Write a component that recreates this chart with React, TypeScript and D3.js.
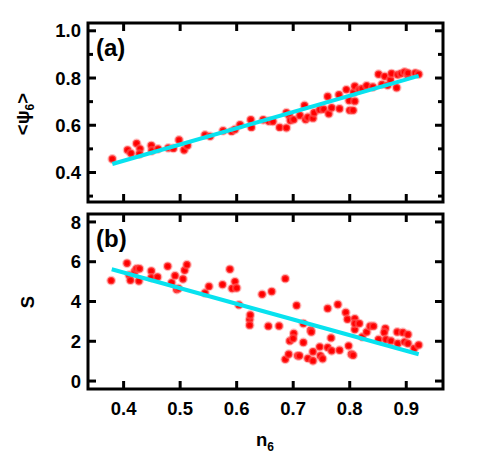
import React from "react";
import * as d3 from "d3";

// ---------- data ----------
const psiN6 = [0.380,0.407,0.413,0.423,0.429,0.428,0.449,0.450,0.461,0.479,0.488,0.498,0.507,0.513,0.544,0.553,0.576,0.591,0.597,0.606,0.625,0.626,0.647,0.657,0.664,0.676,0.688,0.688,0.693,0.695,0.701,0.712,0.720,0.722,0.726,0.735,0.737,0.747,0.754,0.761,0.763,0.768,0.781,0.782,0.794,0.799,0.800,0.806,0.809,0.807,0.809,0.817,0.822,0.830,0.841,0.851,0.857,0.862,0.867,0.872,0.874,0.883,0.885,0.891,0.897,0.903,0.903,0.916,0.922];
const psiVal = [0.457,0.495,0.481,0.523,0.500,0.478,0.514,0.492,0.500,0.504,0.502,0.538,0.495,0.514,0.559,0.553,0.577,0.574,0.582,0.602,0.623,0.591,0.623,0.617,0.616,0.591,0.589,0.653,0.641,0.620,0.624,0.641,0.684,0.624,0.634,0.630,0.653,0.666,0.668,0.722,0.649,0.674,0.729,0.670,0.751,0.705,0.663,0.663,0.702,0.740,0.765,0.751,0.755,0.768,0.762,0.816,0.773,0.807,0.769,0.793,0.819,0.759,0.814,0.819,0.826,0.811,0.821,0.821,0.816];
const psiFitX = [0.38, 0.922];
const psiFitY = [0.436, 0.809];

const sN6 = [0.378,0.406,0.410,0.412,0.420,0.423,0.428,0.427,0.449,0.449,0.460,0.478,0.485,0.491,0.494,0.497,0.505,0.508,0.512,0.544,0.551,0.575,0.588,0.592,0.597,0.600,0.604,0.623,0.624,0.623,0.645,0.656,0.662,0.675,0.686,0.686,0.692,0.694,0.701,0.700,0.706,0.708,0.711,0.718,0.718,0.726,0.731,0.732,0.735,0.735,0.747,0.748,0.752,0.761,0.761,0.767,0.768,0.779,0.782,0.793,0.796,0.798,0.803,0.806,0.809,0.809,0.809,0.817,0.822,0.830,0.836,0.842,0.851,0.863,0.861,0.864,0.873,0.884,0.885,0.894,0.897,0.903,0.903,0.914,0.922];
const sVal = [5.05,5.92,5.32,5.07,5.52,5.65,5.65,5.03,5.53,5.20,5.23,5.77,4.95,5.30,4.60,4.66,5.13,5.57,5.85,4.43,4.76,4.85,5.62,4.65,5.00,4.68,3.83,3.09,3.32,2.81,4.36,2.76,4.50,2.77,5.15,1.09,1.35,2.02,2.39,2.14,3.80,1.27,1.27,1.94,2.89,1.14,2.56,2.47,1.47,1.02,1.72,1.27,1.12,3.65,1.69,2.17,1.52,3.85,1.55,3.45,3.11,1.77,1.35,1.30,3.14,2.59,2.89,2.89,2.22,2.47,2.76,2.76,2.09,2.64,2.44,2.09,2.02,2.47,1.89,2.44,1.97,2.34,1.89,1.64,1.81];
const sFitX = [0.379, 0.922];
const sFitY = [5.62, 1.35];

const xTicks = [0.4, 0.5, 0.6, 0.7, 0.8, 0.9];
const psiMajor = [0.4, 0.6, 0.8, 1.0];
const psiMinor = [0.3, 0.5, 0.7, 0.9];
const sMajor = [0, 2, 4, 6, 8];

// ---------- layout ----------
const W = 491, H = 461;
const L = 88, R = 443;
const FONT = "'Liberation Sans', Arial, sans-serif";

const x = d3.scaleLinear().domain([0.337, 0.965]).range([L, R]);
const yTop = d3.scaleLinear().domain([0.275, 1.033]).range([202, 23]);
const yBot = d3.scaleLinear().domain([-0.4, 8.4]).range([389, 214]);

const RED = "#ff0000";
const HALO = "rgba(255,110,110,0.45)";
const CYAN = "#08e2ef";

type PanelProps = {
  y: d3.ScaleLinear<number, number>;
  xs: number[];
  ys: number[];
  fx: number[];
  fy: number[];
  major: number[];
  minor: number[];
  fmt: (v: number) => string;
  label: string;
};

function Panel({ y, xs, ys, fx, fy, major, minor, fmt, label }: PanelProps) {
  const [y0, y1] = y.range();
  const top = Math.min(y0, y1), bot = Math.max(y0, y1);
  const line = d3.line<number>().x((d) => x(d)).y((_, i) => y(fy[i]));
  const MAJ = 8, MIN = 5;
  return (
    <g>
      {xs.map((v, i) => (
        <circle key={i} cx={x(v)} cy={y(ys[i])} r={3.7} fill={RED} stroke={HALO} strokeWidth={2.4} />
      ))}
      <path d={line(fx) || ""} stroke={CYAN} strokeWidth={4} fill="none" />
      <rect x={L} y={top} width={R - L} height={bot - top} fill="none" stroke="#000" strokeWidth={3} />
      {xTicks.map((t) => (
        <g key={"x" + t}>
          <line x1={x(t)} x2={x(t)} y1={bot} y2={bot - MAJ} stroke="#000" strokeWidth={3} />
          <line x1={x(t)} x2={x(t)} y1={top} y2={top + MAJ} stroke="#000" strokeWidth={3} />
        </g>
      ))}
      {major.map((t) => (
        <g key={"y" + t}>
          <line x1={L} x2={L + MAJ} y1={y(t)} y2={y(t)} stroke="#000" strokeWidth={3} />
          <line x1={R} x2={R - MAJ} y1={y(t)} y2={y(t)} stroke="#000" strokeWidth={3} />
          <text x={L - 7} y={y(t)} dy="0.36em" textAnchor="end" fontFamily={FONT} fontWeight="bold" fontSize={18.5}>
            {fmt(t)}
          </text>
        </g>
      ))}
      {minor.map((t) => (
        <g key={"m" + t}>
          <line x1={L} x2={L + MIN} y1={y(t)} y2={y(t)} stroke="#000" strokeWidth={3} />
          <line x1={R} x2={R - MIN} y1={y(t)} y2={y(t)} stroke="#000" strokeWidth={3} />
        </g>
      ))}
      <text x={96} y={top + 33} fontFamily={FONT} fontWeight="bold" fontSize={24}>
        {label}
      </text>
    </g>
  );
}

export default function App() {
  return (
    <svg width={W} height={H} style={{ position: "absolute", left: 0, top: 0, background: "#fff" }}>
      <Panel y={yTop} xs={psiN6} ys={psiVal} fx={psiFitX} fy={psiFitY} major={psiMajor} minor={psiMinor} fmt={d3.format(".1f")} label="(a)" />
      <Panel y={yBot} xs={sN6} ys={sVal} fx={sFitX} fy={sFitY} major={sMajor} minor={[]} fmt={d3.format("d")} label="(b)" />
      {xTicks.map((t) => (
        <text key={t} x={x(t)} y={415} textAnchor="middle" fontFamily={FONT} fontWeight="bold" fontSize={18.5}>
          {d3.format(".1f")(t)}
        </text>
      ))}
      <text transform="translate(29,114) rotate(-90)" textAnchor="middle" fontFamily={FONT} fontWeight="bold" fontSize={18.5}>
        {"<ψ"}
        <tspan fontSize={12} dy={5}>6</tspan>
        <tspan dy={-5}>{">"}</tspan>
      </text>
      <text transform="translate(34,302) rotate(-90)" textAnchor="middle" fontFamily={FONT} fontWeight="bold" fontSize={18.5}>
        S
      </text>
      <text x={265} y={446} textAnchor="middle" fontFamily={FONT} fontWeight="bold" fontSize={18.5}>
        n
        <tspan fontSize={12} dy={5}>6</tspan>
      </text>
    </svg>
  );
}
